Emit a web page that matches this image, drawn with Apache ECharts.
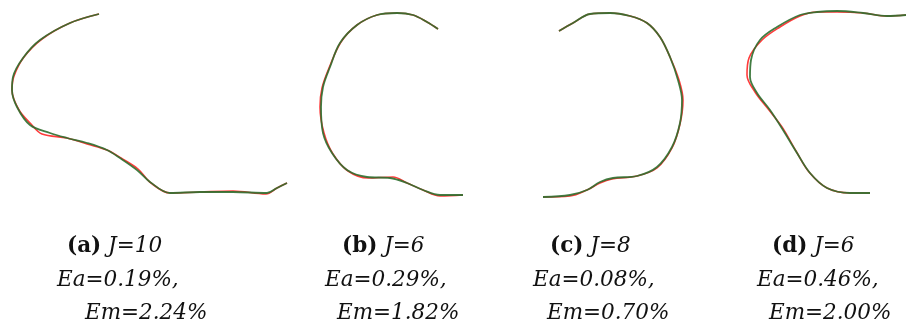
<!DOCTYPE html>
<html>
<head>
<meta charset="utf-8">
<script src="https://cdn.jsdelivr.net/npm/echarts@6/dist/echarts.min.js"></script>
<style>
  html, body { margin: 0; padding: 0; background: #fff; }
  #chart { width: 906px; height: 328px; }
</style>
</head>
<body>
<div id="chart"></div>
<script>
// Contour samples (x, y) in the shared drawing frame; green = reconstruction, red = original contour.
const contourA_green = [[99,14],[70,23],[40,40],[23,58],[13,77],[12,90],[17,107],[30,125],[50,133],[67,138],[87,143],[107,150],[120,158],[137,170],[150,182],[170,193],[200,192],[233,192],[267,193],[277,188],[287,183]];
const contourA_red   = [[99,14],[70,23],[42,39],[24,57],[14,76],[12,90],[19,110],[31,124],[42,134],[67,138],[87,144],[107,150],[121,158],[138,169],[151,183],[170,193],[200,192],[233,191],[266,194],[277,188],[287,183]];

const contourB_green = [[438,29],[427,22],[413,15],[397,13],[377,15],[357,25],[340,43],[330,67],[323,87],[321,107],[323,133],[332,153],[347,170],[367,177],[390,178],[407,183],[423,190],[440,195],[463,195]];
const contourB_red   = [[438,29],[427,22],[413,15],[397,13],[377,15],[357,25],[341,42],[329,68],[322,88],[320,107],[324,133],[333,154],[348,171],[368,178],[393,177],[407,183],[423,190],[440,196],[463,195]];

const contourC_green = [[559,31],[573,23],[590,14],[610,13],[630,16],[647,23],[660,37],[670,57],[678,80],[682,100],[680,123],[672,147],[657,167],[637,176],[613,178],[600,182],[587,190],[570,195],[543,197]];
const contourC_red   = [[559,31],[573,23],[590,14],[610,13],[630,16],[647,23],[660,37],[670,57],[679,80],[683,100],[680,124],[672,148],[657,168],[637,176],[612,179],[600,183],[587,190],[570,196],[543,197]];

const contourD_green = [[870,193],[850,193],[827,188],[810,173],[797,153],[783,130],[770,110],[757,93],[750,77],[751,60],[760,40],[777,27],[800,15],[817,12],[837,11],[863,13],[887,16],[906,15]];
const contourD_red   = [[870,193],[850,193],[827,188],[809,172],[796,151],[782,127],[769,110],[755,92],[747,75],[749,58],[762,40],[780,27],[800,16],[817,12],[837,12],[863,13],[887,16],[906,15]];

// Caption texts per panel
const captionTags   = ['(a)', '(b)', '(c)', '(d)'];
const captionJ      = ['J=10', 'J=6', 'J=8', 'J=6'];
const captionEa     = ['Ea=0.19%,', 'Ea=0.29%,', 'Ea=0.08%,', 'Ea=0.46%,'];
const captionEm     = ['Em=2.24%', 'Em=1.82%', 'Em=0.70%', 'Em=2.00%'];

const curves = [
  [contourA_green, contourA_red],
  [contourB_green, contourB_red],
  [contourC_green, contourC_red],
  [contourD_green, contourD_red]
];

// Caption anchor positions (line 1, line 2, line 3 left edges; row centres)
const captionX = [[67, 57, 85], [342, 325, 337], [550, 533, 547], [772, 757, 769]];
const captionY = [246, 280, 313];

const GREEN = 'rgba(45,110,45,0.9)';
const RED = '#ff3b3b';

const series = [];
curves.forEach(function (pair) {
  series.push({
    type: 'line', data: pair[1], smooth: 0.35, showSymbol: false, symbol: 'none',
    lineStyle: { color: RED, width: 1.6 }, z: 2, silent: true
  });
  series.push({
    type: 'line', data: pair[0], smooth: 0.35, showSymbol: false, symbol: 'none',
    lineStyle: { color: GREEN, width: 1.8 }, z: 3, silent: true
  });
});

const FONT = '"DejaVu Serif", "Liberation Serif", serif';
const SIZE = 21.5;
const graphics = [];
for (let i = 0; i < 4; i++) {
  graphics.push({
    type: 'text', x: captionX[i][0], y: captionY[0],
    style: {
      text: '{b|' + captionTags[i] + '}{s| }{i|' + captionJ[i] + '}',
      verticalAlign: 'middle',
      rich: {
        b: { fontFamily: FONT, fontWeight: 'bold', fontSize: SIZE, fill: '#111' },
        s: { fontFamily: FONT, fontSize: SIZE, fill: '#111' },
        i: { fontFamily: FONT, fontStyle: 'italic', fontSize: SIZE, fill: '#111' }
      }
    }
  });
  graphics.push({
    type: 'text', x: captionX[i][1], y: captionY[1],
    style: { text: captionEa[i], verticalAlign: 'middle', fontFamily: FONT, fontStyle: 'italic', fontSize: SIZE, fill: '#111' }
  });
  graphics.push({
    type: 'text', x: captionX[i][2], y: captionY[2],
    style: { text: captionEm[i], verticalAlign: 'middle', fontFamily: FONT, fontStyle: 'italic', fontSize: SIZE, fill: '#111' }
  });
}

const chart = echarts.init(document.getElementById('chart'), null, { renderer: 'canvas' });
chart.setOption({
  animation: false,
  backgroundColor: '#fff',
  grid: { left: 0, right: 0, top: 0, bottom: 0 },
  xAxis: { type: 'value', min: 0, max: 906, show: false },
  yAxis: { type: 'value', min: 0, max: 328, inverse: true, show: false },
  series: series,
  graphic: graphics
});
</script>
</body>
</html>
